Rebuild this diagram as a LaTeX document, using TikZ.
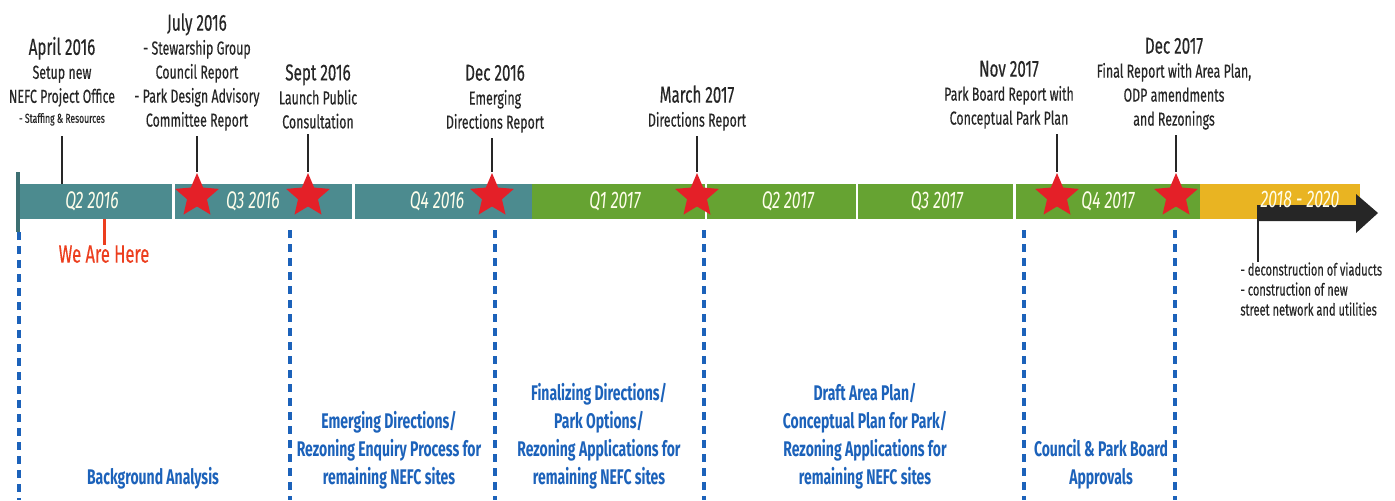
\documentclass[tikz,border=0pt]{standalone}
\usepackage{fontspec}
\setmainfont{Fira Sans}[FakeStretch=0.66]
\newfontfamily\labelfamily{Fira Sans}[FakeStretch=0.66,FakeBold=0.35]
\usepackage{xcolor}
\usepackage{tikz}
\usetikzlibrary{shapes.geometric}
\definecolor{barteal}{RGB}{76,139,143}
\definecolor{bargreen}{RGB}{102,163,50}
\definecolor{baryellow}{RGB}{233,180,34}
\definecolor{starred}{RGB}{228,32,40}
\definecolor{phaseblue}{RGB}{28,98,186}
\definecolor{herered}{RGB}{236,62,30}
\newcommand{\datefont}{\fontsize{11.5}{12}\selectfont}
\newcommand{\smallfont}{\fontsize{6.5}{8}\selectfont}
\tikzset{milestone/.style={
    % text above the bar
    align=center,inner sep=0pt,anchor=south,text=black!85,
    font=\labelfamily\fontsize{9.4}{12}\selectfont
  },
  segment/.style={
    rectangle,inner sep=0pt,minimum height=17.5pt
  },
  quarter/.style={
    text=white!92!yellow,font=\fontsize{12}{14}\selectfont\itshape
  },
  redstar/.style={
    star,star points=5,star point ratio=2.2,minimum size=23pt,
    inner sep=0pt,fill=starred
  },
  pointer/.style={
    draw=black!85,line width=1.2pt
  },
  phase/.style={
    align=center,inner sep=0pt,anchor=south,text=phaseblue,
    font=\fontsize{10.6}{14}\selectfont\bfseries
  },
  divider/.style={
    draw=phaseblue,line width=2pt,dash pattern=on 4pt off 3pt
  }
}
\begin{document}
\begin{tikzpicture}[x=0.5pt,y=-0.5pt]
  \useasboundingbox (0,0) rectangle (1395,500);

  % the bar
  \node (q2a) [segment,fill=barteal,minimum width=76pt] at (96,201.5) {};
  \node (q3a) [segment,fill=barteal,minimum width=88.5pt] at (263.5,201.5) {};
  \node (q4a) [segment,fill=barteal,minimum width=88.5pt] at (443.5,201.5) {};
  \node (q1b) [segment,fill=bargreen,minimum width=86.5pt] at (618.5,201.5) {};
  \node (q2b) [segment,fill=bargreen,minimum width=74.5pt] at (781.5,201.5) {};
  \node (q3b) [segment,fill=bargreen,minimum width=77.5pt] at (935.5,201.5) {};
  \node (q4b) [segment,fill=bargreen,minimum width=92pt] at (1108,201.5) {};
  \node (later) [segment,fill=baryellow,minimum width=80pt] at (1280,201.5) {};
  \draw[barteal!80!black,line width=2pt] (18,172) -- (18,232);
  \fill[black!85] (1257,205) -- (1356,205) -- (1356,194) -- (1378,213)
    -- (1356,233) -- (1356,221) -- (1257,221) -- cycle;

  \node (t2a) [quarter] at (92,201.5) {Q2 2016};
  \node (t3a) [quarter] at (253,201.5) {Q3 2016};
  \node (t4a) [quarter] at (437,201.5) {Q4 2016};
  \node (t1b) [quarter] at (615,201.5) {Q1 2017};
  \node (t2b) [quarter] at (788,201.5) {Q2 2017};
  \node (t3b) [quarter] at (937,201.5) {Q3 2017};
  \node (t4b) [quarter] at (1108,201.5) {Q4 2017};
  \node (tlater) [quarter] at (1300,199) {2018 - 2020};

  % milestones
  \node (apr) [milestone] at (62,126) {{\datefont April 2016}\\
    Setup new\\ NEFC Project Office\\[-2pt]
    {\smallfont - Staffing \& Resources}};
  \node (jul) [milestone] at (197,131) {{\datefont July 2016}\\
    - Stewarship Group\\ Council Report\\
    - Park Design Advisory\\ Committee Report};
  \node (sep) [milestone] at (318,129) {{\datefont Sept 2016}\\
    Launch Public\\ Consultation};
  \node (dec) [milestone] at (495,133) {{\datefont Dec 2016}\\
    Emerging\\ Directions Report};
  \node (mar) [milestone] at (697,131) {{\datefont March 2017}\\
    Directions Report};
  \node (nov) [milestone] at (1009,129) {{\datefont Nov 2017}\\
    Park Board Report with\\ Conceptual Park Plan};
  \node (fin) [milestone] at (1174,130) {{\datefont Dec 2017}\\
    Final Report with Area Plan,\\ ODP amendments\\ and Rezonings};

  \node (sjul) [redstar] at (197,196) {};
  \node (ssep) [redstar] at (308,196) {};
  \node (sdec) [redstar] at (492,196) {};
  \node (smar) [redstar] at (697,196) {};
  \node (snov) [redstar] at (1057,196) {};
  \node (sfin) [redstar] at (1176,196) {};

  \draw[pointer] ([yshift=-5pt]apr.south) -- (apr.south |- q2a.north);
  \draw[pointer] (sjul.north |- jul.south) ++(0,5) -- (sjul.north);
  \draw[pointer] (ssep.north |- sep.south) ++(0,5) -- (ssep.north);
  \draw[pointer] (sdec.north |- dec.south) ++(0,5) -- (sdec.north);
  \draw[pointer] (smar.north |- mar.south) ++(0,5) -- (smar.north);
  \draw[pointer] (snov.north |- nov.south) ++(0,5) -- (snov.north);
  \draw[pointer] (sfin.north |- fin.south) ++(0,5) -- (sfin.north);

  % we are here
  \node (here) [anchor=north,inner sep=0pt,text=herered,
    font=\labelfamily\fontsize{12.5}{14}\selectfont] at (104,245) {We Are Here};
  \draw[herered,line width=1.5pt] (q2a.south -| here.north) -- (here.north);

  % after 2018
  \coordinate (afoot) at (1258,212);
  \node (works) [anchor=north west,align=left,inner sep=0pt,text=black!85,
    font=\labelfamily\fontsize{8.4}{10}\selectfont] at (1240,262)
    {- deconstruction of viaducts\\ - construction of new\\
    street network and utilities};
  \draw[pointer] (afoot) -- (afoot |- works.north) ++(0,-3);

  % phases
  \draw[divider] (19,232) -- (19,500);
  \draw[divider] (290,230) -- (290,500);
  \draw[divider] (495,230) -- (495,500);
  \draw[divider] (704,230) -- (704,500);
  \draw[divider] (1024,230) -- (1024,500);
  \draw[divider] (1175,230) -- (1175,500);

  \node (bg) [phase] at (153,490) {Background Analysis};
  \node (emerg) [phase] at (389,490) {Emerging Directions/\\
    Rezoning Enquiry Process for\\ remaining NEFC sites};
  \node (final) [phase] at (599,490) {Finalizing Directions/\\
    Park Options/\\ Rezoning Applications for\\ remaining NEFC sites};
  \node (draft) [phase] at (865,490) {Draft Area Plan/\\
    Conceptual Plan for Park/\\ Rezoning Applications for\\
    remaining NEFC sites};
  \node (approv) [phase] at (1101,490) {Council \& Park Board\\ Approvals};
\end{tikzpicture}
\end{document}
